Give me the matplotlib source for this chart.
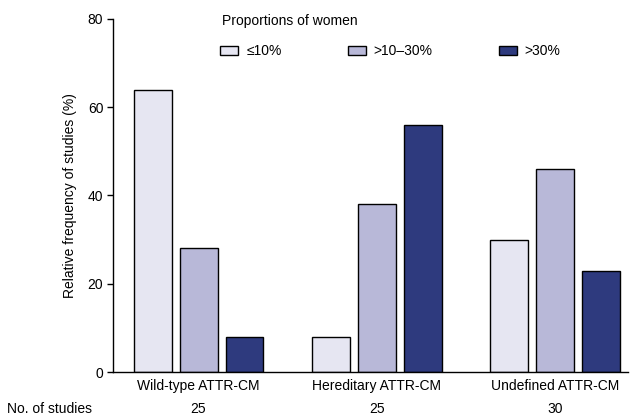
import matplotlib
matplotlib.use("Agg")
import matplotlib.pyplot as plt
import matplotlib.transforms as mtransforms
import numpy as np
from matplotlib.patches import Patch

groups = ["Wild-type ATTR-CM", "Hereditary ATTR-CM", "Undefined ATTR-CM"]
n_studies = ["25", "25", "30"]
categories = ["\u226410%", ">10\u201330%", ">30%"]
values = {
    "\u226410%": [64, 8, 30],
    ">10\u201330%": [28, 38, 46],
    ">30%": [8, 56, 23],
}
colors = ["#e6e6f2", "#b8b8d8", "#2e3a7e"]

plt.rcParams["font.family"] = ["Liberation Sans", "DejaVu Sans"]
plt.rcParams["font.size"] = 10

fig = plt.figure(figsize=(6.38, 4.17), dpi=100)
ax = fig.add_axes([113 / 638, 1 - 372 / 417, 515 / 638, 353 / 417])

x = np.arange(len(groups))
pitch = 0.258
width = 0.213
for i, cat in enumerate(categories):
    ax.bar(x + (i - 1) * pitch, values[cat], width, color=colors[i],
           edgecolor="black", linewidth=1.0, zorder=2)

ax.set_xlim(-0.48, 2.41)
ax.set_ylim(0, 80)
ax.set_yticks([0, 20, 40, 60, 80])
ax.set_xticks(x)
ax.set_xticklabels(groups)
ax.tick_params(axis="x", length=0, pad=5)
ax.tick_params(axis="y", length=4.5, width=1.0, pad=2.5)
for s in ("top", "right"):
    ax.spines[s].set_visible(False)
for s in ("left", "bottom"):
    ax.spines[s].set_linewidth(1.0)
ax.set_ylabel("Relative frequency of studies (%)", labelpad=8)

# number of studies row
trans = mtransforms.blended_transform_factory(ax.transData, ax.transAxes)
for xi, n in zip(x, n_studies):
    ax.text(xi, (372 - 409) / 353, n, transform=trans, ha="center", va="center")
fig.text(7 / 638, 1 - 409 / 417, "No. of studies", ha="left", va="center")

# legend
handles = [Patch(facecolor=c, edgecolor="black", linewidth=1.0) for c in colors]
leg = ax.legend(handles, categories, ncol=3, frameon=False,
                loc="center left", bbox_to_anchor=(0.208, 0.909),
                handlelength=1.3, handleheight=0.65, handletextpad=0.58,
                columnspacing=4.75, borderaxespad=0, borderpad=0)
ax.text(0.2116, 0.995, "Proportions of women", transform=ax.transAxes,
        ha="left", va="center")

fig.savefig("out.png", dpi=100)
